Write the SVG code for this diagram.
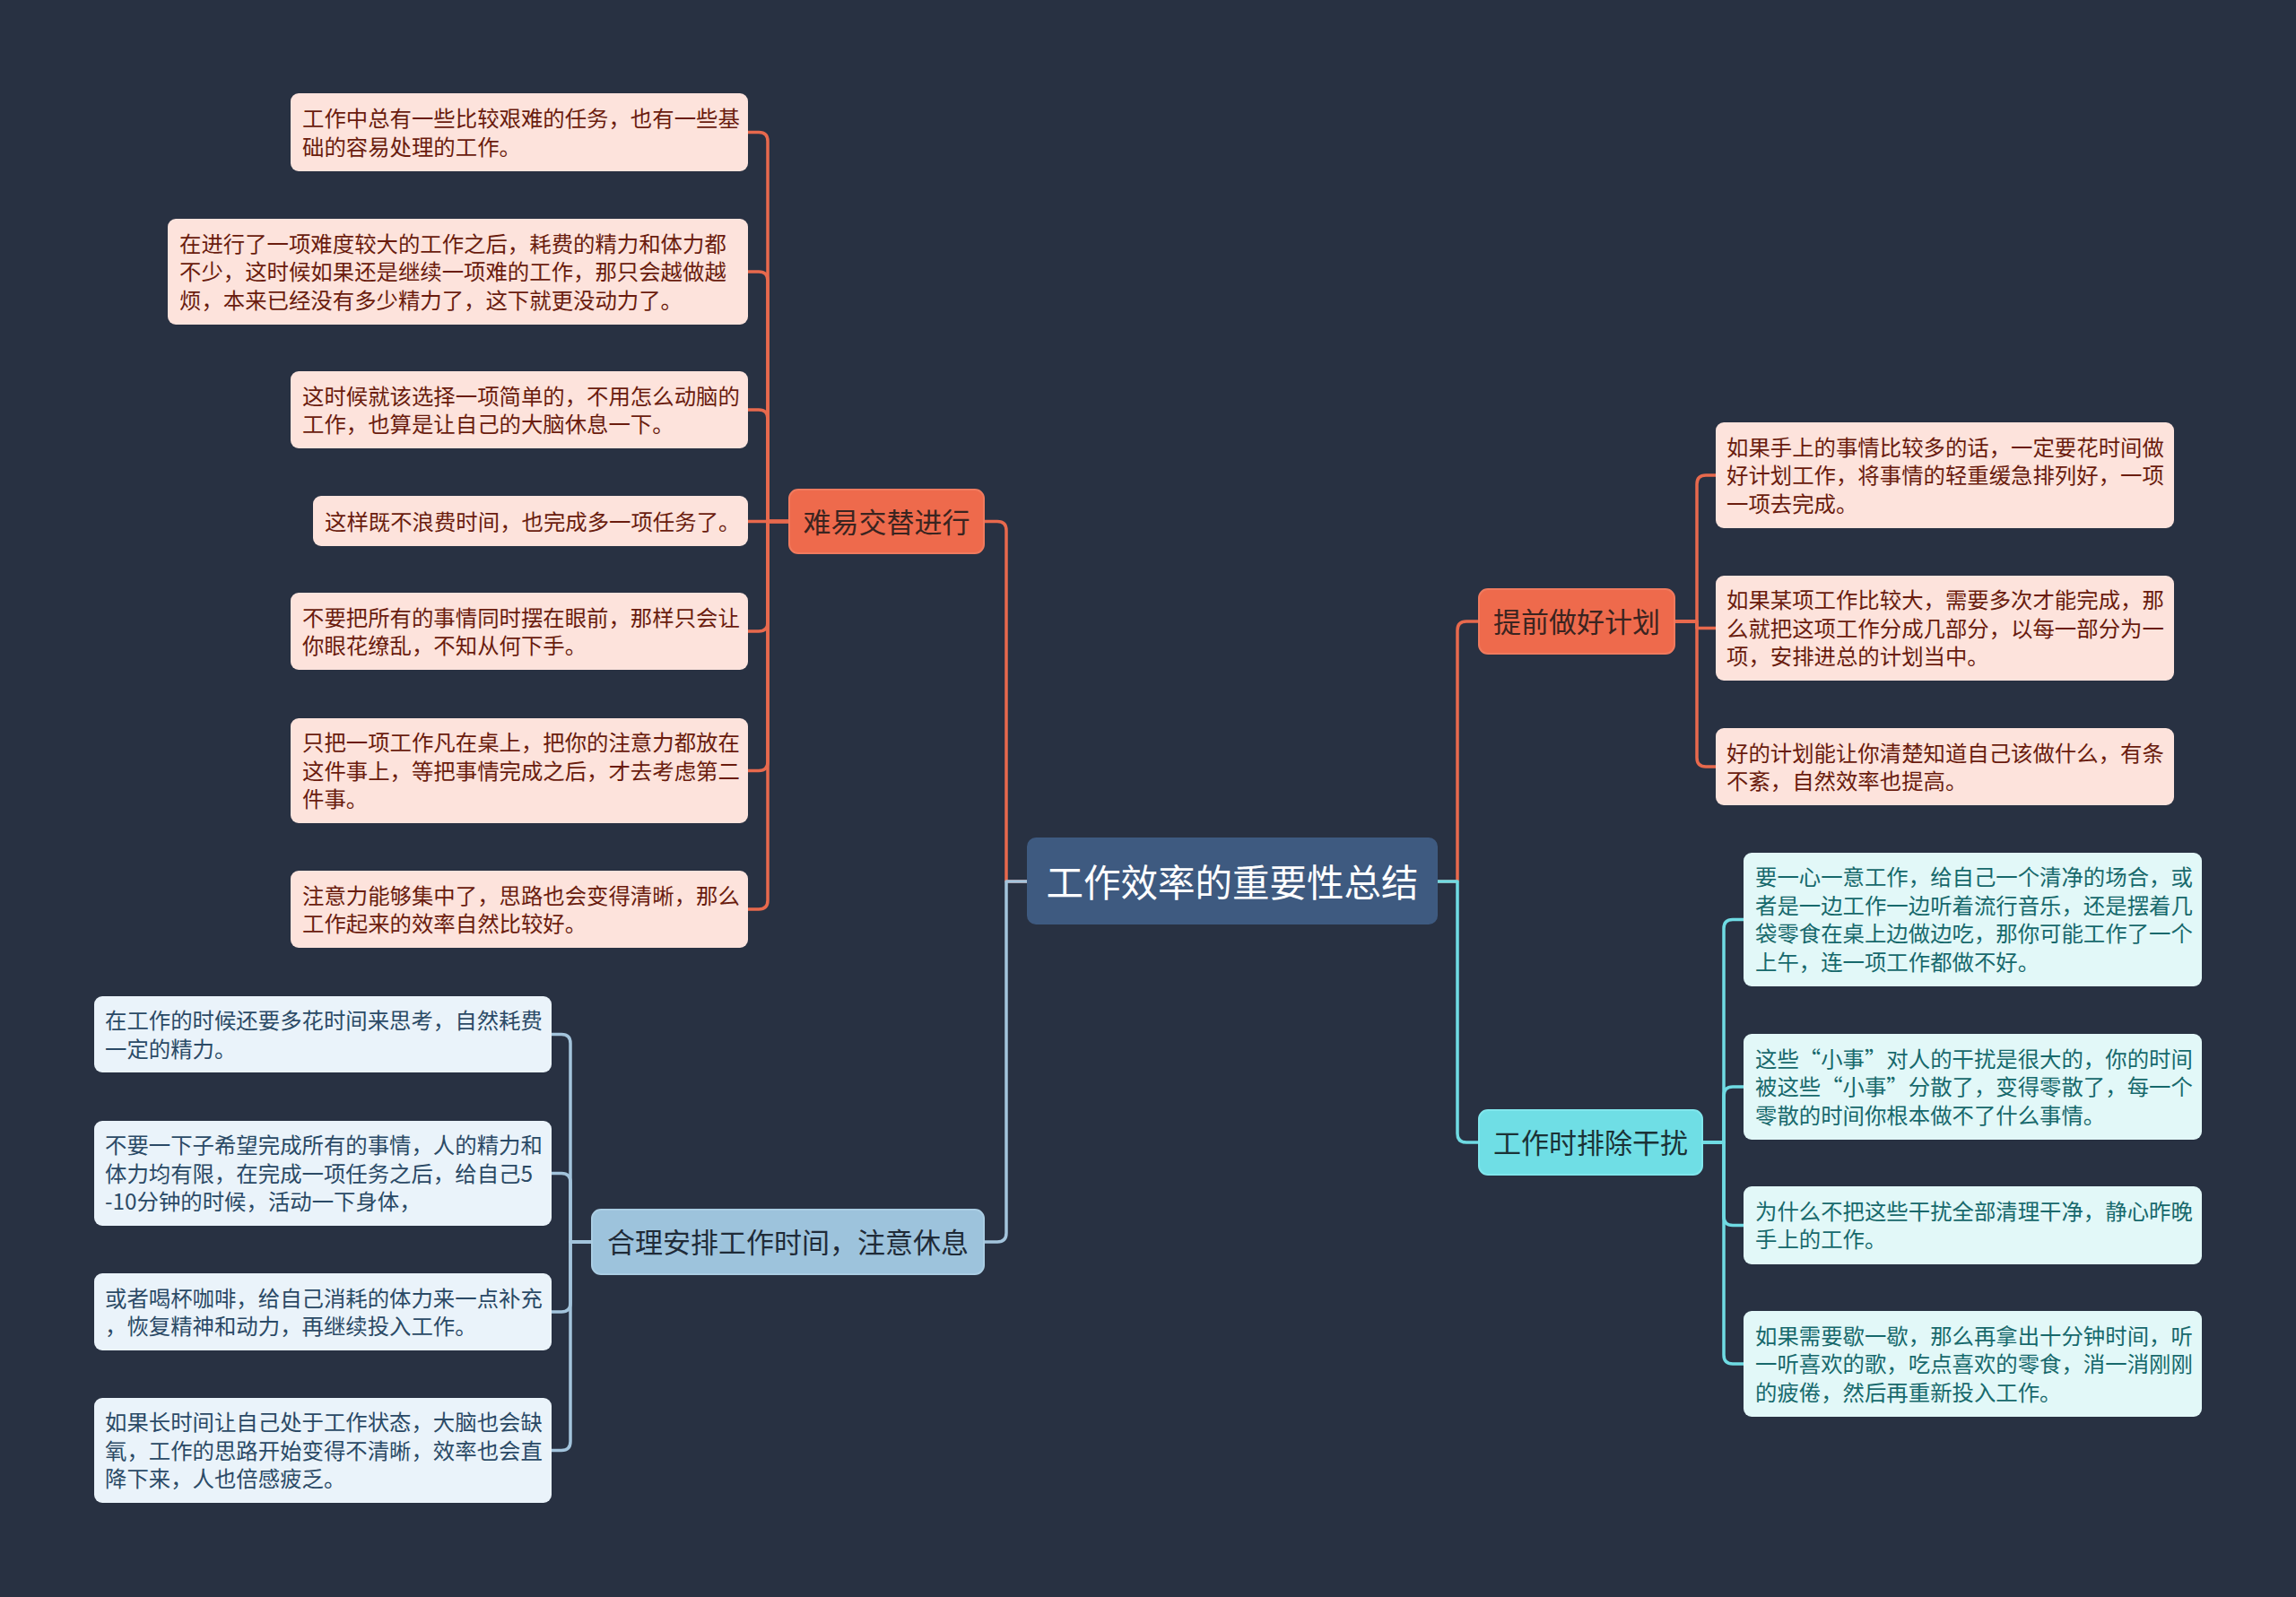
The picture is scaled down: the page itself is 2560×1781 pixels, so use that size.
<svg xmlns="http://www.w3.org/2000/svg" width="2560" height="1781" viewBox="0 0 2560 1781">
<style>
text{font-family:"Noto Sans CJK SC","Noto Sans",sans-serif;dominant-baseline:central;transform:translateY(-1.5px)}
.c{fill:none;stroke-width:3.5;stroke-linejoin:round}
.co{stroke:#e8694d}.cb{stroke:#a3c4dc}.cc{stroke:#6fdbe3}
.lo rect{fill:#fde3dc}.lo text{fill:#6a1c0e;font-size:24.4px}
.lb rect{fill:#eaf3fa}.lb text{fill:#2b4a66;font-size:24.4px}
.lc rect{fill:#e2f8f8}.lc text{fill:#17696c;font-size:24.4px}
.bo rect{fill:#ee6a4c;stroke:#f07a5e;stroke-width:2}
.bb rect{fill:#9dc3dc;stroke:#aacde3;stroke-width:2}
.bc rect{fill:#6fdee5;stroke:#80e6ec;stroke-width:2}
.br text{font-size:31px;text-anchor:middle}
</style>
<rect x="0" y="0" width="2560" height="1781" fill="#283142"/>
<g id="connectors">
<path class="c co" d="M1145,983 H1122 V591.5 Q1122,581.5 1112,581.5 H1097"/>
<path class="c cb" d="M1145,983 H1122 V1375 Q1122,1385 1112,1385 H1097"/>
<path class="c co" d="M1603,983 H1625 V703 Q1625,693 1635,693 H1649"/>
<path class="c cc" d="M1603,983 H1625 V1264 Q1625,1274 1635,1274 H1649"/>
<path class="c co" d="M880,581.5 H856 V157.5 Q856,147.5 846,147.5 H834"/>
<path class="c co" d="M880,581.5 H856 V313 Q856,303 846,303 H834"/>
<path class="c co" d="M880,581.5 H856 V467 Q856,457 846,457 H834"/>
<path class="c co" d="M880,581.5 H834"/>
<path class="c co" d="M880,581.5 H856 V694 Q856,704 846,704 H834"/>
<path class="c co" d="M880,581.5 H856 V849.5 Q856,859.5 846,859.5 H834"/>
<path class="c co" d="M880,581.5 H856 V1004 Q856,1014 846,1014 H834"/>
<path class="c cb" d="M660,1385 H636 V1163.5 Q636,1153.5 626,1153.5 H615"/>
<path class="c cb" d="M660,1385 H636 V1318.5 Q636,1308.5 626,1308.5 H615"/>
<path class="c cb" d="M660,1385 H636 V1453 Q636,1463 626,1463 H615"/>
<path class="c cb" d="M660,1385 H636 V1607.5 Q636,1617.5 626,1617.5 H615"/>
<path class="c co" d="M1867,693 H1892 V540 Q1892,530 1902,530 H1913"/>
<path class="c co" d="M1867,693 H1892 V700.5 H1913"/>
<path class="c co" d="M1867,693 H1892 V845 Q1892,855 1902,855 H1913"/>
<path class="c cc" d="M1898,1274 H1922 V1035.5 Q1922,1025.5 1932,1025.5 H1944"/>
<path class="c cc" d="M1898,1274 H1922 V1222 Q1922,1212 1932,1212 H1944"/>
<path class="c cc" d="M1898,1274 H1922 V1356.5 Q1922,1366.5 1932,1366.5 H1944"/>
<path class="c cc" d="M1898,1274 H1922 V1511 Q1922,1521 1932,1521 H1944"/>
</g>
<g id="root">
<rect x="1145" y="934" width="458" height="97" rx="10" fill="#3e5a80"/>
<text x="1374" y="983" fill="#ffffff" font-size="41.5" text-anchor="middle">工作效率的重要性总结</text>
</g>
<g id="b1" class="br bo">
<rect x="880" y="546" width="217" height="71" rx="10"/>
<text x="988.5" y="581.5" fill="#3a2420">难易交替进行</text>
</g>
<g id="b2" class="br bb">
<rect x="660" y="1349" width="437" height="72" rx="10"/>
<text x="878.5" y="1385" fill="#1f2b38">合理安排工作时间，注意休息</text>
</g>
<g id="b3" class="br bo">
<rect x="1649" y="657" width="218" height="72" rx="10"/>
<text x="1758" y="693" fill="#3a2420">提前做好计划</text>
</g>
<g id="b4" class="br bc">
<rect x="1649" y="1238" width="249" height="72" rx="10"/>
<text x="1773.5" y="1274" fill="#1b3236">工作时排除干扰</text>
</g>
<g id="l1" class="lo">
<rect x="324" y="104" width="510" height="87" rx="9"/>
<text x="337" y="132">工作中总有一些比较艰难的任务，也有一些基</text>
<text x="337" y="163.5">础的容易处理的工作。</text>
</g>
<g id="l2" class="lo">
<rect x="187" y="244" width="647" height="118" rx="9"/>
<text x="200" y="271.5">在进行了一项难度较大的工作之后，耗费的精力和体力都</text>
<text x="200" y="303">不少，这时候如果还是继续一项难的工作，那只会越做越</text>
<text x="200" y="334.5">烦，本来已经没有多少精力了，这下就更没动力了。</text>
</g>
<g id="l3" class="lo">
<rect x="324" y="414" width="510" height="86" rx="9"/>
<text x="337" y="441.5">这时候就该选择一项简单的，不用怎么动脑的</text>
<text x="337" y="473">工作，也算是让自己的大脑休息一下。</text>
</g>
<g id="l4" class="lo">
<rect x="349" y="553" width="485" height="56" rx="9"/>
<text x="362" y="581.5">这样既不浪费时间，也完成多一项任务了。</text>
</g>
<g id="l5" class="lo">
<rect x="324" y="661" width="510" height="86" rx="9"/>
<text x="337" y="688.5">不要把所有的事情同时摆在眼前，那样只会让</text>
<text x="337" y="720">你眼花缭乱，不知从何下手。</text>
</g>
<g id="l6" class="lo">
<rect x="324" y="801" width="510" height="117" rx="9"/>
<text x="337" y="828">只把一项工作凡在桌上，把你的注意力都放在</text>
<text x="337" y="859.5">这件事上，等把事情完成之后，才去考虑第二</text>
<text x="337" y="891">件事。</text>
</g>
<g id="l7" class="lo">
<rect x="324" y="971" width="510" height="86" rx="9"/>
<text x="337" y="998.5">注意力能够集中了，思路也会变得清晰，那么</text>
<text x="337" y="1030">工作起来的效率自然比较好。</text>
</g>
<g id="l8" class="lb">
<rect x="105" y="1111" width="510" height="85" rx="9"/>
<text x="117" y="1138">在工作的时候还要多花时间来思考，自然耗费</text>
<text x="117" y="1169.5">一定的精力。</text>
</g>
<g id="l9" class="lb">
<rect x="105" y="1250" width="510" height="117" rx="9"/>
<text x="117" y="1277">不要一下子希望完成所有的事情，人的精力和</text>
<text x="117" y="1308.5">体力均有限，在完成一项任务之后，给自己5</text>
<text x="117" y="1340">-10分钟的时候，活动一下身体，</text>
</g>
<g id="l10" class="lb">
<rect x="105" y="1420" width="510" height="86" rx="9"/>
<text x="117" y="1447.5">或者喝杯咖啡，给自己消耗的体力来一点补充</text>
<text x="117" y="1479">，恢复精神和动力，再继续投入工作。</text>
</g>
<g id="l11" class="lb">
<rect x="105" y="1559" width="510" height="117" rx="9"/>
<text x="117" y="1586">如果长时间让自己处于工作状态，大脑也会缺</text>
<text x="117" y="1617.5">氧，工作的思路开始变得不清晰，效率也会直</text>
<text x="117" y="1649">降下来，人也倍感疲乏。</text>
</g>
<g id="r1" class="lo">
<rect x="1913" y="471" width="511" height="118" rx="9"/>
<text x="1925" y="498.5">如果手上的事情比较多的话，一定要花时间做</text>
<text x="1925" y="530">好计划工作，将事情的轻重缓急排列好，一项</text>
<text x="1925" y="561.5">一项去完成。</text>
</g>
<g id="r2" class="lo">
<rect x="1913" y="642" width="511" height="117" rx="9"/>
<text x="1925" y="669">如果某项工作比较大，需要多次才能完成，那</text>
<text x="1925" y="700.5">么就把这项工作分成几部分，以每一部分为一</text>
<text x="1925" y="732">项，安排进总的计划当中。</text>
</g>
<g id="r3" class="lo">
<rect x="1913" y="812" width="511" height="86" rx="9"/>
<text x="1925" y="839.5">好的计划能让你清楚知道自己该做什么，有条</text>
<text x="1925" y="871">不紊，自然效率也提高。</text>
</g>
<g id="r4" class="lc">
<rect x="1944" y="951" width="511" height="149" rx="9"/>
<text x="1957" y="978.25">要一心一意工作，给自己一个清净的场合，或</text>
<text x="1957" y="1009.75">者是一边工作一边听着流行音乐，还是摆着几</text>
<text x="1957" y="1041.25">袋零食在桌上边做边吃，那你可能工作了一个</text>
<text x="1957" y="1072.75">上午，连一项工作都做不好。</text>
</g>
<g id="r5" class="lc">
<rect x="1944" y="1153" width="511" height="118" rx="9"/>
<text x="1957" y="1180.5">这些“小事”对人的干扰是很大的，你的时间</text>
<text x="1957" y="1212">被这些“小事”分散了，变得零散了，每一个</text>
<text x="1957" y="1243.5">零散的时间你根本做不了什么事情。</text>
</g>
<g id="r6" class="lc">
<rect x="1944" y="1323" width="511" height="87" rx="9"/>
<text x="1957" y="1350.75">为什么不把这些干扰全部清理干净，静心昨晚</text>
<text x="1957" y="1382.25">手上的工作。</text>
</g>
<g id="r7" class="lc">
<rect x="1944" y="1462" width="511" height="118" rx="9"/>
<text x="1957" y="1489.5">如果需要歇一歇，那么再拿出十分钟时间，听</text>
<text x="1957" y="1521">一听喜欢的歌，吃点喜欢的零食，消一消刚刚</text>
<text x="1957" y="1552.5">的疲倦，然后再重新投入工作。</text>
</g>
</svg>
